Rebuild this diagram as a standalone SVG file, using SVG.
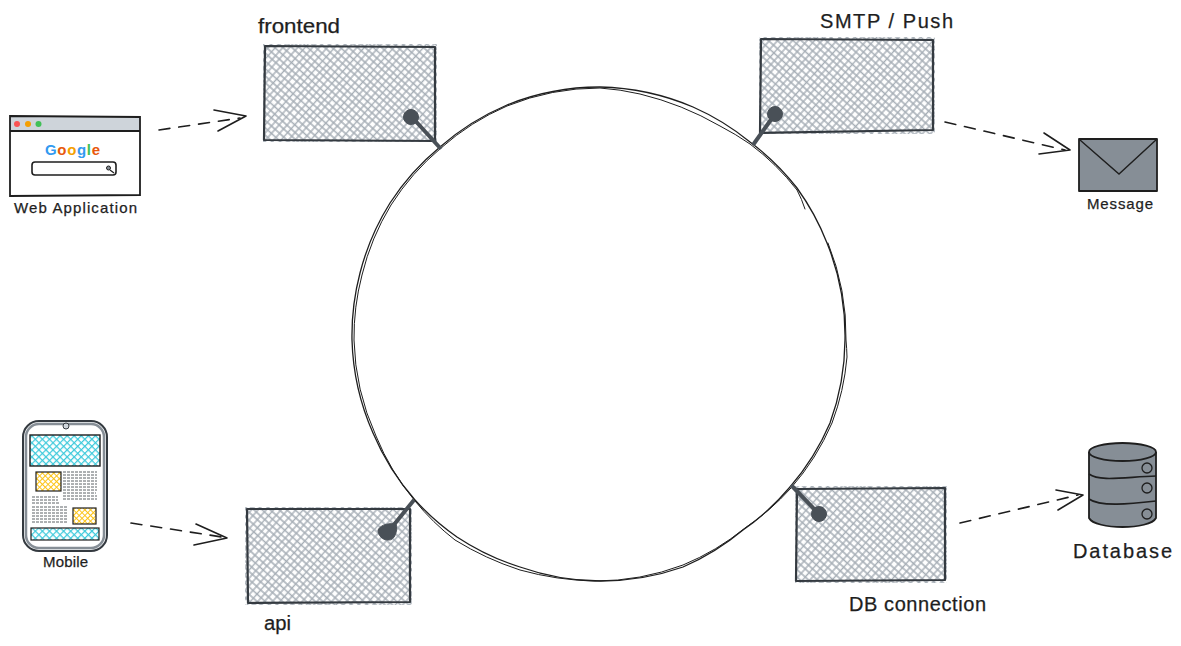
<svg xmlns="http://www.w3.org/2000/svg" width="1181" height="646" viewBox="0 0 1181 646">
<style>
.ring{fill:none;stroke:#1e1e1e;stroke-linecap:round;stroke-linejoin:round}
.box{fill:url(#hatch);stroke:none}
.edge{fill:none;stroke:#343a40;stroke-width:2.200;stroke-linejoin:round}
.dark{fill:#495057;stroke:#495057}
.pin{stroke:#495057;stroke-width:4}
.dash{fill:none;stroke:#1e1e1e;stroke-width:1.600;stroke-dasharray:11 9;stroke-linecap:round}
.head{fill:none;stroke:#1e1e1e;stroke-width:1.600;stroke-linecap:round;stroke-linejoin:round}
.metal{fill:#868e96;stroke:#1e1e1e;stroke-width:1.800;stroke-linejoin:round}
.bolt{fill:#868e96;stroke:#1e1e1e;stroke-width:1.300}
.fine{fill:none;stroke:#343a40;stroke-width:.8;stroke-dasharray:3 1}
text{font-family:"Liberation Sans",Arial,sans-serif;fill:#1e1e1e;stroke:#1e1e1e;stroke-width:.25}
.lg{font-size:20px}
.sm{font-size:15px}
</style>
<defs>
<pattern id="hatch" width="22" height="22" patternUnits="userSpaceOnUse" patternTransform="rotate(42)">
<path d="M0 0H22M0 5.500H22M0 11H22M0 16H22M0 22H22M0 0V22M5 0V22M11 0V22M16.500 0V22M22 0V22" stroke="#a5adb5" stroke-width="1.400" fill="none"/>
</pattern>
<pattern id="blue" width="5" height="5" patternUnits="userSpaceOnUse" patternTransform="rotate(45)">
<rect width="5" height="5" fill="#fff"/>
<path d="M0 0H5M0 0V5" stroke="#3bc9db" stroke-width="2.400" fill="none"/>
</pattern>
<pattern id="yellow" width="4" height="4" patternUnits="userSpaceOnUse" patternTransform="rotate(45)">
<rect width="4" height="4" fill="#fff"/>
<path d="M0 0H4M0 0V4" stroke="#fcc419" stroke-width="2" fill="none"/>
</pattern>
</defs>

<g id="connectors">
<g id="ring">
<path class="ring" stroke-width="1.300" d="M600 87A250 250 0 0 1 693 107A247 247 0 0 1 750 142A247 247 0 0 1 797 188A247 247 0 0 1 827 243A247 247 0 0 1 845 340A247 247 0 0 1 830 423A247 247 0 0 1 790 487A247 247 0 0 1 743 530A247 247 0 0 1 683 567A247 247 0 0 1 600 581A247 247 0 0 1 520 567A247 247 0 0 1 457 537A247 247 0 0 1 415 500A247 247 0 0 1 373 433A247 247 0 0 1 352 340A247 247 0 0 1 360 273A247 247 0 0 1 390 203A247 247 0 0 1 440 147A247 247 0 0 1 507 105A247 247 0 0 1 600 87"/>
<path class="ring" stroke-width="1" d="M805 209A120 120 0 0 0 797 190A247 247 0 0 0 750 144A280 280 0 0 0 720 126A300 300 0 0 0 640 94A247 247 0 0 0 600 88A247 247 0 0 0 507 106A247 247 0 0 0 441 148A247 247 0 0 0 391 205A247 247 0 0 0 362 275A247 247 0 0 0 354 340A247 247 0 0 0 376 436A247 247 0 0 0 415 501A247 247 0 0 0 455 540A300 300 0 0 0 520 570A300 300 0 0 0 595 581A247 247 0 0 0 683 565A247 247 0 0 0 745 528A247 247 0 0 0 791 488A247 247 0 0 0 832 423A247 247 0 0 0 847 357A247 247 0 0 0 846 340A247 247 0 0 0 828 243"/>
</g>
<g id="link-web">
<path class="dash" d="M159 130L240 118"/>
<path class="head" d="M214 110L246 116L218 131"/>
</g>
<g id="link-mobile">
<path class="dash" d="M131 523L222 537"/>
<path class="head" d="M196 524L227 538L194 545"/>
</g>
<g id="link-message">
<path class="dash" d="M945 122L1065 150"/>
<path class="head" d="M1044 133L1070 150L1039 154"/>
</g>
<g id="link-database">
<path class="dash" d="M960 523L1078 495"/>
<path class="head" d="M1056 490L1083 495L1058 510"/>
</g>
</g>

<g id="frontend">
<rect class="box" x="263" y="44" width="174" height="98"/>
<path class="edge" d="M265 46L435 47L435 141L264 140Z"/>
<path class="pin" d="M411 116L441 149"/>
<circle class="dark" cx="411" cy="117" r="7.500"/>
<text class="lg" x="258" y="33" textLength="82" lengthAdjust="spacingAndGlyphs">frontend</text>
</g>

<g id="smtp">
<rect class="box" x="759" y="37" width="176" height="97"/>
<path class="edge" d="M761 39L933 40L933 130L760 133Z"/>
<path class="pin" d="M775 114L753 145"/>
<circle class="dark" cx="775" cy="114" r="7.500"/>
<text class="lg" x="820" y="28" textLength="133" lengthAdjust="spacing">SMTP / Push</text>
</g>

<g id="db-connection">
<rect class="box" x="795" y="486" width="152" height="97"/>
<path class="edge" d="M797 489L945 488L945 580L796 581Z"/>
<path class="pin" d="M819 514L791 485"/>
<circle class="dark" cx="819" cy="514" r="7.500"/>
<text class="lg" x="849" y="611" textLength="137" lengthAdjust="spacing">DB connection</text>
</g>

<g id="api">
<rect class="box" x="245" y="507" width="167" height="98"/>
<path class="edge" d="M247 509L410 509L410 602L248 603Z"/>
<path class="pin" d="M388 532L414 500"/>
<path class="dark" d="M378 530C381 524 390 523 396 524C398 530 395 541 388 540C382 540 378 535 378 530Z"/>
<text class="lg" x="264" y="630" textLength="27" lengthAdjust="spacingAndGlyphs">api</text>
</g>

<g id="web-application">
<rect x="10" y="117" width="130" height="78" fill="#fff"/>
<rect x="10" y="117" width="130" height="14" fill="#ced4da"/>
<path d="M10 116L140 117L140 195L10 196Z M10 131L140 131" fill="none" stroke="#1e1e1e" stroke-width="1.800"/>
<circle cx="17" cy="124" r="3" fill="#fa5252"/>
<circle cx="28" cy="124" r="3" fill="#f59f00"/>
<circle cx="38.500" cy="124" r="3" fill="#40c057"/>
<text x="45" y="155" font-size="15" font-weight="bold" style="stroke:none" textLength="55" lengthAdjust="spacing"><tspan fill="#339af0">G</tspan><tspan fill="#e8590c">o</tspan><tspan fill="#f59f00">o</tspan><tspan fill="#339af0">g</tspan><tspan fill="#40c057">l</tspan><tspan fill="#e8590c">e</tspan></text>
<rect x="32" y="162" width="84" height="13" rx="3" fill="#fff" stroke="#1e1e1e" stroke-width="1.600"/>
<circle cx="108.500" cy="168" r="2" fill="#868e96" stroke="#1e1e1e"/>
<path d="M110 170L114 173" stroke="#1e1e1e" stroke-width="1.200"/>
<text class="sm" x="14" y="213" textLength="123" lengthAdjust="spacing">Web Application</text>
</g>

<g id="mobile">
<rect x="23" y="421" width="84" height="130" rx="16" fill="#f1f3f5" stroke="#343a40" stroke-width="2"/>
<rect x="26" y="424" width="78" height="124" rx="13" fill="#fff" stroke="#868e96" stroke-width="2.500"/>
<circle cx="66" cy="426" r="3" fill="#ced4da" stroke="#343a40"/>
<rect x="30" y="435" width="70" height="31" fill="url(#blue)" stroke="#1e1e1e" stroke-width="1.400"/>
<rect x="36" y="472" width="25" height="19" fill="url(#yellow)" stroke="#1e1e1e" stroke-width="1.200"/>
<rect x="73" y="508" width="23" height="16" fill="url(#yellow)" stroke="#1e1e1e" stroke-width="1.200"/>
<rect x="31" y="528" width="68" height="12" fill="url(#blue)" stroke="#1e1e1e" stroke-width="1.200"/>
<path class="fine" d="M63 472H97M63 475H97M63 478H97M63 481H97M63 484H97M63 487H97M63 490H97M63 493H96M63 496H97M63 499H97M32 497H58M32 500H58M32 503H60M32 507H68M32 510H68M32 513H68M32 516H68M32 519H68M32 522H68"/>
<text class="sm" x="43" y="567" textLength="45" lengthAdjust="spacing">Mobile</text>
</g>

<g id="message">
<rect class="metal" x="1079" y="139" width="78" height="52"/>
<path d="M1080 140L1119 174L1157 139" fill="none" stroke="#1e1e1e" stroke-width="1.400"/>
<text class="sm" x="1087" y="209" textLength="66" lengthAdjust="spacing">Message</text>
</g>

<g id="database">
<path class="metal" d="M1089 452V518C1095 530 1150 530 1156 518V452"/>
<ellipse cx="1122.500" cy="452" rx="33.500" ry="9" fill="#868e96" stroke="#1e1e1e" stroke-width="1.800"/>
<path d="M1089 474C1100 482 1125 477 1156 476M1089 499C1100 507 1130 504 1156 501" fill="none" stroke="#1e1e1e" stroke-width="1.600"/>
<circle class="bolt" cx="1147" cy="468" r="5"/>
<circle class="bolt" cx="1147" cy="488" r="5"/>
<circle class="bolt" cx="1147" cy="514" r="5"/>
<text class="lg" x="1073" y="558" textLength="99" lengthAdjust="spacing">Database</text>
</g>
</svg>
